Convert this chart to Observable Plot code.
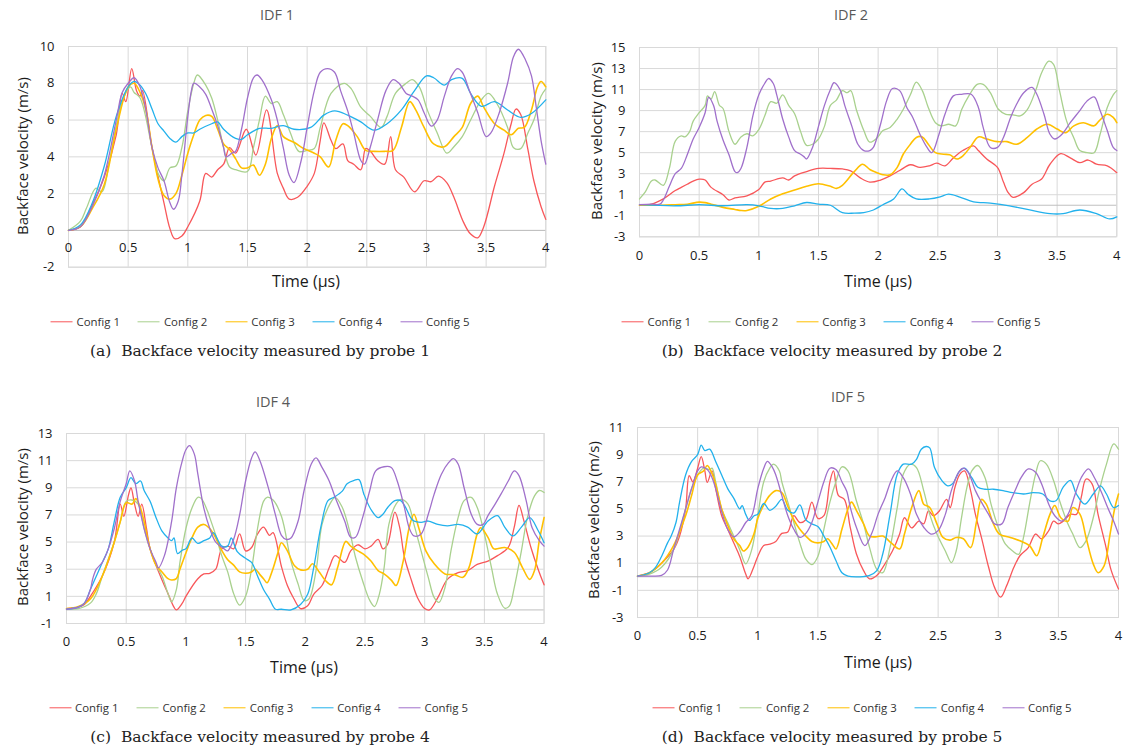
<!DOCTYPE html>
<html><head><meta charset="utf-8">
<script src="https://cdn.jsdelivr.net/npm/d3@7"></script>
<script src="https://cdn.jsdelivr.net/npm/@observablehq/plot@0.6"></script>
<style>
body{margin:0;background:#fff;}
#root{position:relative;width:1126px;height:750px;overflow:hidden;font-family:"Open Sans",sans-serif;background:#fff;}
.abs{position:absolute;white-space:nowrap;transform:translate(-50%,-50%);line-height:1;}
.title{font-size:14.5px;color:#595959;}
.xlab{font-size:16px;color:#1a1a1a;}
.ylab{font-size:15px;color:#1a1a1a;transform:translate(-50%,-50%) rotate(-90deg);}
.legend{display:flex;font-size:11.4px;color:#333;}
.item{display:inline-flex;align-items:center;margin:0 9px;}
.sw{display:inline-block;width:22px;height:0;border-top:1.5px solid;margin-right:4px;}
.cap{font-family:"DejaVu Serif",serif;font-size:15.5px;color:#222;}
svg{position:absolute;overflow:visible;}
</style></head><body><div id="root"></div>
<script>
const seriesNames = ["Config 1","Config 2","Config 3","Config 4","Config 5"];
const seriesColors = ["#F8575A","#A9D18E","#FFC000","#22B1EC","#A070CB"];
const xTickValues = [0,0.5,1,1.5,2,2.5,3,3.5,4];

// ---- IDF 1 (probe 1) ----
const idf1_config1 = [[0,0],[0.1,0.2],[0.2,1.4],[0.3,2.9],[0.4,5.2],[0.45,7.45],[0.48,7.0],[0.53,8.8],[0.57,7.6],[0.6,7.3],[0.62,7.6],[0.7,4.5],[0.8,1.5],[0.85,0.1],[0.89,-0.45],[0.95,-0.3],[1.0,0.2],[1.1,1.6],[1.15,3.1],[1.2,2.9],[1.25,3.3],[1.3,3.6],[1.35,4.5],[1.4,4.2],[1.49,5.5],[1.57,4.1],[1.66,6.55],[1.75,3.1],[1.8,2.3],[1.85,1.7],[1.92,1.8],[2.0,2.4],[2.06,3.1],[2.11,4.9],[2.14,5.85],[2.2,4.9],[2.24,4.45],[2.3,4.7],[2.34,3.8],[2.39,3.6],[2.45,3.3],[2.49,4.45],[2.53,4.3],[2.59,3.8],[2.65,3.6],[2.7,5.1],[2.74,3.3],[2.81,2.9],[2.9,2.1],[2.98,2.7],[3.04,2.65],[3.1,2.95],[3.17,2.6],[3.23,1.8],[3.31,0.45],[3.37,-0.2],[3.43,-0.4],[3.48,0.2],[3.57,2.4],[3.65,4.2],[3.71,5.8],[3.75,6.6],[3.79,6.3],[3.85,4.4],[3.9,2.7],[3.96,1.3],[4.0,0.6]];
const idf1_config2 = [[0,0],[0.1,0.5],[0.15,1.2],[0.23,2.3],[0.28,2.1],[0.35,4],[0.45,7.0],[0.52,7.8],[0.55,7.5],[0.6,7.2],[0.7,4.5],[0.75,3.1],[0.8,2.7],[0.85,3.4],[0.9,3.5],[0.95,4.5],[1.0,6.5],[1.05,8.0],[1.08,8.45],[1.15,7.9],[1.2,7.2],[1.25,6.0],[1.3,4.5],[1.35,3.45],[1.4,3.3],[1.5,3.2],[1.55,4.5],[1.6,6.0],[1.65,7.3],[1.7,6.9],[1.75,7.0],[1.8,6.3],[1.86,5.3],[1.93,4.3],[2.0,4.35],[2.06,4.45],[2.11,5.6],[2.2,7.45],[2.31,8.0],[2.37,7.7],[2.45,6.7],[2.53,6.2],[2.62,5.6],[2.67,6.2],[2.74,7.45],[2.83,8.0],[2.88,8.2],[2.94,7.8],[3.01,6.5],[3.09,5.3],[3.17,4.2],[3.23,4.55],[3.3,5.1],[3.37,6.0],[3.46,7.1],[3.52,7.45],[3.59,6.9],[3.68,5.6],[3.73,4.5],[3.79,4.45],[3.85,5.3],[3.9,6.0],[3.96,7.3],[4.0,7.7]];
const idf1_config3 = [[0,0],[0.1,0.2],[0.2,1.2],[0.3,2.5],[0.4,5.5],[0.5,7.8],[0.55,8.0],[0.6,7.5],[0.65,6.5],[0.7,4.5],[0.75,2.8],[0.8,1.9],[0.85,1.7],[0.9,2.0],[0.95,3.0],[1.0,4.2],[1.05,5.2],[1.1,6.0],[1.15,6.25],[1.2,6.2],[1.25,5.5],[1.3,4.7],[1.35,4.4],[1.4,3.9],[1.45,3.4],[1.5,3.4],[1.55,3.55],[1.6,3.0],[1.65,3.6],[1.7,5.0],[1.75,5.7],[1.8,5.1],[1.85,4.9],[1.9,4.75],[1.97,4.45],[2.06,4.2],[2.11,4.0],[2.18,3.45],[2.24,4.9],[2.3,5.8],[2.34,5.7],[2.42,5.1],[2.49,4.35],[2.56,4.3],[2.65,4.3],[2.72,4.35],[2.79,5.6],[2.86,7.0],[2.91,6.55],[2.98,5.6],[3.06,4.7],[3.15,4.55],[3.23,5.1],[3.3,5.6],[3.37,6.9],[3.43,7.3],[3.48,6.7],[3.57,5.8],[3.65,5.45],[3.71,5.2],[3.77,5.55],[3.82,5.6],[3.88,6.55],[3.93,7.8],[3.96,8.1],[4.0,7.8]];
const idf1_config4 = [[0,0],[0.1,0.3],[0.2,1.5],[0.3,3.5],[0.4,6.2],[0.5,7.8],[0.55,8.1],[0.6,7.9],[0.65,7.4],[0.7,6.6],[0.75,5.8],[0.8,5.4],[0.85,5.0],[0.9,4.8],[0.95,5.1],[1.0,5.3],[1.05,5.3],[1.1,5.5],[1.2,5.8],[1.25,5.9],[1.3,5.5],[1.4,5.0],[1.45,4.95],[1.5,5.2],[1.6,5.55],[1.7,5.55],[1.8,5.7],[1.89,5.5],[2.03,5.6],[2.14,6.27],[2.23,6.5],[2.34,6.27],[2.45,5.9],[2.56,5.45],[2.67,5.8],[2.79,6.55],[2.9,7.6],[3.0,8.4],[3.06,8.3],[3.15,7.9],[3.21,8.2],[3.3,8.27],[3.37,7.45],[3.46,6.75],[3.57,7.0],[3.68,6.55],[3.79,6.15],[3.88,6.36],[4.0,7.1]];
const idf1_config5 = [[0,0],[0.1,0.2],[0.2,1.3],[0.3,3],[0.4,6],[0.45,7.5],[0.5,8.0],[0.55,8.3],[0.6,7.8],[0.65,6.5],[0.7,4.5],[0.75,3.4],[0.8,2.7],[0.85,1.5],[0.88,1.15],[0.92,1.6],[0.95,3],[1.0,6.2],[1.03,7.6],[1.05,8.0],[1.1,7.8],[1.15,7.4],[1.2,6.6],[1.25,5.7],[1.3,4.5],[1.32,4.0],[1.37,4.2],[1.4,4.3],[1.45,5.5],[1.5,7.2],[1.55,8.3],[1.58,8.45],[1.62,8.2],[1.7,7.1],[1.75,6.0],[1.8,4.5],[1.85,3.0],[1.89,2.6],[1.95,3.8],[2.0,5.6],[2.06,7.6],[2.11,8.6],[2.17,8.8],[2.23,8.6],[2.28,7.6],[2.34,6.5],[2.39,5.3],[2.45,3.8],[2.48,3.6],[2.53,4.55],[2.59,6.0],[2.66,7.6],[2.72,8.2],[2.77,8.0],[2.83,7.45],[2.88,7.3],[2.93,7.1],[2.98,6.4],[3.04,5.67],[3.09,6.0],[3.15,7.3],[3.21,8.4],[3.26,8.8],[3.3,8.6],[3.36,7.6],[3.43,6.4],[3.5,5.1],[3.54,5.3],[3.61,6.4],[3.68,8.0],[3.73,9.45],[3.77,9.85],[3.83,9.27],[3.88,8.4],[3.92,6.7],[3.96,4.9],[4.0,3.6]];

// ---- IDF 2 (probe 2) ----
const idf2_config1 = [[0,0],[0.1,0.1],[0.2,0.6],[0.3,1.4],[0.35,1.7],[0.4,2.0],[0.45,2.3],[0.5,2.48],[0.55,2.4],[0.6,1.7],[0.7,1.0],[0.75,0.5],[0.8,0.7],[0.9,0.9],[1.0,1.5],[1.05,2.2],[1.1,2.3],[1.2,2.6],[1.25,2.4],[1.3,2.8],[1.4,3.2],[1.5,3.5],[1.6,3.5],[1.7,3.45],[1.77,3.27],[1.85,2.6],[1.93,2.2],[2.02,2.4],[2.1,2.8],[2.18,3.3],[2.27,3.85],[2.35,3.6],[2.43,3.75],[2.49,4.0],[2.56,3.75],[2.63,4.5],[2.71,5.2],[2.8,5.65],[2.84,5.2],[2.91,4.4],[3.0,3.6],[3.05,2.2],[3.09,1.2],[3.13,0.75],[3.22,1.2],[3.29,2.0],[3.37,2.5],[3.44,3.9],[3.53,4.9],[3.61,4.5],[3.69,4.05],[3.76,4.3],[3.83,3.9],[3.92,3.75],[4.0,3.1]];
const idf2_config2 = [[0,0.6],[0.05,1.3],[0.1,2.3],[0.13,2.4],[0.2,1.9],[0.25,3.5],[0.3,6.1],[0.35,6.6],[0.38,6.5],[0.42,7.0],[0.45,8.0],[0.5,8.8],[0.55,9.5],[0.57,10.4],[0.6,10.1],[0.63,10.8],[0.67,9.5],[0.7,9.2],[0.75,7.0],[0.8,5.8],[0.85,6.5],[0.9,6.8],[0.95,6.6],[1.0,7.2],[1.05,8.5],[1.1,9.85],[1.15,9.7],[1.2,10.5],[1.25,9.5],[1.3,8.7],[1.35,7.0],[1.4,5.7],[1.45,5.8],[1.5,6.3],[1.55,7.5],[1.6,9.5],[1.65,10.0],[1.7,10.9],[1.74,10.7],[1.77,10.9],[1.82,9.0],[1.88,7.1],[1.93,6.0],[1.99,6.4],[2.04,7.1],[2.1,7.4],[2.16,8.2],[2.21,9.1],[2.27,10.5],[2.32,11.7],[2.37,10.9],[2.42,9.3],[2.48,7.85],[2.53,7.55],[2.59,7.7],[2.65,7.55],[2.7,9.1],[2.76,10.4],[2.83,11.5],[2.88,11.5],[2.94,10.7],[3.01,9.1],[3.07,8.65],[3.13,8.6],[3.19,8.5],[3.25,9.1],[3.32,10.9],[3.37,12.6],[3.43,13.7],[3.47,13.4],[3.52,10.9],[3.58,8.0],[3.64,6.4],[3.69,5.2],[3.75,5.0],[3.81,5.0],[3.86,6.75],[3.92,9.3],[3.97,10.5],[4.0,10.9]];
const idf2_config3 = [[0,0],[0.2,0],[0.3,0.05],[0.4,0.1],[0.5,0.3],[0.55,0.25],[0.6,0.1],[0.7,-0.2],[0.8,-0.4],[0.85,-0.5],[0.9,-0.5],[1.0,-0.1],[1.1,0.6],[1.2,1.1],[1.3,1.45],[1.4,1.8],[1.5,2.05],[1.6,1.8],[1.65,1.6],[1.7,1.9],[1.8,3.2],[1.87,3.9],[1.93,3.4],[1.99,3.1],[2.04,2.9],[2.1,2.9],[2.16,3.6],[2.21,4.85],[2.27,5.8],[2.32,6.45],[2.37,6.5],[2.42,5.8],[2.48,5.0],[2.55,4.85],[2.6,4.8],[2.66,4.4],[2.71,4.7],[2.77,5.5],[2.84,6.5],[2.91,6.3],[3.0,6.05],[3.08,6.05],[3.16,5.8],[3.25,6.45],[3.33,7.25],[3.42,7.7],[3.5,7.25],[3.57,6.9],[3.64,7.55],[3.72,7.85],[3.81,7.55],[3.85,8.0],[3.92,8.65],[3.97,8.35],[4.0,7.85]];
const idf2_config4 = [[0,0.05],[0.3,-0.05],[0.5,0.05],[0.7,-0.05],[0.9,0.05],[1.0,-0.05],[1.1,-0.3],[1.2,-0.3],[1.3,-0.05],[1.4,0.26],[1.5,0.1],[1.6,0.0],[1.7,-0.7],[1.8,-0.75],[1.88,-0.7],[1.96,-0.45],[2.04,0.05],[2.13,0.6],[2.2,1.55],[2.25,1.05],[2.32,0.6],[2.43,0.6],[2.52,0.8],[2.59,1.05],[2.69,0.75],[2.8,0.33],[2.94,0.2],[3.1,-0.05],[3.27,-0.45],[3.44,-0.8],[3.55,-0.8],[3.69,-0.45],[3.83,-0.8],[3.94,-1.3],[4.0,-1.1]];
const idf2_config5 = [[0,0.05],[0.1,0.1],[0.17,0.1],[0.2,0.5],[0.25,1.8],[0.3,3.0],[0.35,3.5],[0.4,4.8],[0.45,6.3],[0.5,7.4],[0.55,8.8],[0.58,10.25],[0.62,9.5],[0.65,8.0],[0.7,6.2],[0.75,4.8],[0.8,3.2],[0.82,3.1],[0.85,3.5],[0.9,5.5],[0.95,8.5],[1.0,10.5],[1.05,11.6],[1.08,12.05],[1.12,11.6],[1.15,10.5],[1.2,8.2],[1.25,6.5],[1.3,5.2],[1.35,4.85],[1.38,4.6],[1.4,4.4],[1.45,5.5],[1.5,7.5],[1.55,9.5],[1.6,11.0],[1.63,11.65],[1.68,11.0],[1.72,9.5],[1.78,7.5],[1.83,5.8],[1.88,5.2],[1.93,5.2],[1.96,5.5],[2.02,7.7],[2.07,9.9],[2.12,11.1],[2.18,10.9],[2.24,9.3],[2.29,8.35],[2.35,6.75],[2.41,5.5],[2.45,5.0],[2.51,6.75],[2.56,8.65],[2.63,10.4],[2.7,10.55],[2.78,10.55],[2.84,9.3],[2.88,7.4],[2.94,5.5],[3.0,5.5],[3.05,6.45],[3.11,8.35],[3.16,9.6],[3.22,10.7],[3.29,11.2],[3.33,10.55],[3.39,8.65],[3.44,6.75],[3.48,6.3],[3.54,6.75],[3.61,7.85],[3.69,9.0],[3.75,9.9],[3.81,10.3],[3.86,9.0],[3.92,7.1],[3.97,5.5],[4.0,5.2]];

// ---- IDF 4 (probe 4) ----
const idf4_config1 = [[0,0.1],[0.1,0.2],[0.15,0.4],[0.2,1.0],[0.3,2.5],[0.4,5],[0.45,7.8],[0.48,6.9],[0.52,8.5],[0.54,9.0],[0.57,7.8],[0.6,6.9],[0.63,7.8],[0.67,6.0],[0.7,4.5],[0.8,2.2],[0.85,1.2],[0.9,0.2],[0.92,0],[0.97,0.5],[1.0,1.0],[1.1,2.3],[1.15,2.65],[1.2,2.7],[1.25,3.0],[1.3,4.5],[1.35,4.7],[1.4,4.5],[1.45,5.6],[1.5,4.35],[1.55,4.6],[1.6,5.6],[1.65,6.1],[1.7,5.5],[1.73,5.7],[1.8,3.2],[1.85,1.8],[1.9,0.9],[1.96,0.1],[2.02,0.3],[2.07,1.15],[2.14,1.8],[2.2,3.1],[2.25,4.0],[2.33,3.5],[2.38,4.35],[2.44,4.8],[2.5,4.5],[2.55,4.7],[2.61,5.2],[2.65,4.5],[2.69,4.85],[2.75,7.2],[2.79,6.1],[2.83,3.9],[2.89,2.15],[2.94,0.9],[3.0,0.1],[3.04,0],[3.11,0.9],[3.19,2.25],[3.28,2.75],[3.36,2.9],[3.44,3.35],[3.53,3.6],[3.61,4.0],[3.7,4.6],[3.75,6.1],[3.79,7.7],[3.83,6.6],[3.89,4.6],[3.95,3.0],[4.0,1.85]];
const idf4_config2 = [[0,0.05],[0.1,0.1],[0.2,0.5],[0.25,1.2],[0.3,2.5],[0.4,5.0],[0.45,6.5],[0.5,8.0],[0.55,8.1],[0.6,7.8],[0.65,6.0],[0.7,4.5],[0.75,3.3],[0.8,2.5],[0.85,1.2],[0.88,0.6],[0.92,1.5],[0.95,3.5],[1.0,6.0],[1.05,7.5],[1.1,8.3],[1.13,8.2],[1.18,7.3],[1.2,6.8],[1.25,5.5],[1.3,4.0],[1.35,2.8],[1.4,1.2],[1.45,0.35],[1.5,1.0],[1.55,3],[1.6,6.0],[1.65,8.0],[1.68,8.3],[1.73,8.1],[1.8,6.9],[1.88,3.6],[1.94,1.9],[1.99,0.7],[2.03,0.8],[2.09,2.9],[2.14,6.3],[2.2,7.7],[2.25,8.3],[2.31,7.55],[2.37,5.85],[2.42,3.9],[2.48,2.15],[2.54,0.7],[2.58,0.25],[2.62,1.15],[2.66,3.1],[2.7,6.3],[2.76,7.8],[2.8,8.15],[2.86,7.8],[2.91,6.3],[2.97,4.35],[3.03,2.4],[3.08,0.9],[3.12,0.55],[3.17,1.65],[3.22,4.35],[3.28,6.8],[3.33,8.05],[3.39,8.3],[3.44,7.55],[3.5,5.6],[3.56,3.1],[3.61,1.15],[3.67,0.13],[3.71,0.3],[3.75,1.65],[3.81,4.35],[3.86,6.8],[3.92,8.4],[3.96,8.8],[4.0,8.65]];
const idf4_config3 = [[0,0.1],[0.1,0.25],[0.2,0.8],[0.3,2.5],[0.4,5.0],[0.45,6.5],[0.5,7.9],[0.55,7.8],[0.58,8.2],[0.62,7.5],[0.65,6.5],[0.7,4.5],[0.75,3.3],[0.8,2.8],[0.85,2.3],[0.88,2.2],[0.92,2.3],[0.95,3.0],[1.0,4.2],[1.05,5.3],[1.1,6.1],[1.15,6.3],[1.2,6.0],[1.25,5.3],[1.3,4.4],[1.35,3.7],[1.4,3.3],[1.45,2.8],[1.5,2.7],[1.55,2.8],[1.58,3.0],[1.62,2.6],[1.65,2.3],[1.68,2.0],[1.72,2.8],[1.77,4.2],[1.8,4.95],[1.85,4.35],[1.91,3.25],[1.96,2.95],[2.02,3.0],[2.06,3.4],[2.12,2.75],[2.17,2.15],[2.22,1.85],[2.27,3.1],[2.34,5.05],[2.38,4.7],[2.44,4.35],[2.49,4.1],[2.55,3.6],[2.61,2.9],[2.66,2.65],[2.72,2.2],[2.76,1.8],[2.82,3.6],[2.87,6.05],[2.91,7.05],[2.95,6.05],[3.01,4.35],[3.08,3.4],[3.17,2.65],[3.25,2.6],[3.32,2.4],[3.37,3.1],[3.44,5.6],[3.47,6.05],[3.53,5.35],[3.58,4.5],[3.67,4.6],[3.75,4.25],[3.82,3.1],[3.88,2.25],[3.92,2.9],[3.96,5.1],[4.0,6.8]];
const idf4_config4 = [[0,0.05],[0.1,0.2],[0.15,0.5],[0.2,1.5],[0.25,2.5],[0.3,3.5],[0.35,4.5],[0.4,6.5],[0.45,8.3],[0.5,9.0],[0.54,9.75],[0.58,9.3],[0.62,9.5],[0.65,8.8],[0.7,8.0],[0.75,6.8],[0.8,5.8],[0.85,5.3],[0.88,5.1],[0.9,5.3],[0.93,4.15],[0.97,4.4],[1.0,4.5],[1.05,5.3],[1.1,4.9],[1.15,5.1],[1.2,5.3],[1.23,5.7],[1.3,4.7],[1.35,4.7],[1.38,5.3],[1.43,4.3],[1.5,3.8],[1.55,3.5],[1.6,2.5],[1.65,1.5],[1.7,0.8],[1.75,0.05],[1.8,0.05],[1.88,0],[1.96,0.4],[2.02,1.15],[2.07,3.1],[2.13,6.1],[2.19,8.05],[2.24,8.3],[2.31,8.75],[2.35,9.3],[2.41,9.55],[2.45,9.6],[2.49,8.55],[2.55,7.4],[2.61,6.8],[2.65,7.05],[2.69,7.55],[2.75,8.05],[2.8,8.05],[2.84,7.55],[2.9,6.6],[2.97,6.45],[3.03,6.55],[3.11,6.3],[3.19,6.2],[3.28,6.3],[3.36,6.1],[3.44,5.6],[3.53,6.55],[3.61,6.95],[3.67,6.1],[3.74,5.45],[3.81,6.1],[3.88,6.8],[3.95,5.85],[4.0,4.95]];
const idf4_config5 = [[0,0.05],[0.1,0.2],[0.15,0.5],[0.2,1.5],[0.22,2.3],[0.25,3.0],[0.3,3.5],[0.35,4.5],[0.4,6.0],[0.45,8.0],[0.5,9.3],[0.53,10.25],[0.57,9.5],[0.6,8.0],[0.65,6.0],[0.7,4.5],[0.75,3.5],[0.77,3.1],[0.82,4.0],[0.88,6.5],[0.92,9.0],[0.97,11.0],[1.0,11.8],[1.03,12.1],[1.07,11.5],[1.1,10.0],[1.15,7.5],[1.2,6.0],[1.25,5.0],[1.32,4.5],[1.35,4.35],[1.4,5.2],[1.45,7.0],[1.5,9.5],[1.55,11.2],[1.58,11.65],[1.62,11.0],[1.7,8.7],[1.75,7.0],[1.8,5.5],[1.84,5.2],[1.88,5.3],[1.94,6.55],[1.99,8.8],[2.05,10.75],[2.09,11.2],[2.14,10.5],[2.2,9.5],[2.25,8.3],[2.33,6.55],[2.38,5.35],[2.42,5.35],[2.48,6.8],[2.54,8.8],[2.59,10.25],[2.66,10.55],[2.72,10.5],[2.77,9.5],[2.83,7.55],[2.87,6.05],[2.91,5.45],[2.97,5.6],[3.03,7.05],[3.08,8.55],[3.14,10.0],[3.2,10.85],[3.24,11.15],[3.28,10.75],[3.33,9.0],[3.39,7.05],[3.44,6.3],[3.49,6.3],[3.53,6.95],[3.59,7.8],[3.64,8.55],[3.7,9.5],[3.75,10.25],[3.79,9.9],[3.85,8.05],[3.9,6.05],[3.96,5.1],[4.0,4.7]];

// ---- IDF 5 (probe 5) ----
const idf5_config1 = [[0,0.05],[0.1,0.3],[0.15,0.6],[0.2,1.0],[0.3,2.0],[0.35,3.0],[0.4,5.0],[0.43,7.45],[0.46,7.0],[0.5,8.0],[0.53,8.85],[0.56,7.8],[0.58,6.95],[0.62,7.8],[0.65,6.5],[0.7,4.5],[0.75,3.5],[0.8,2.5],[0.85,1.5],[0.9,0.2],[0.92,-0.15],[0.97,0.8],[1.0,1.5],[1.05,2.3],[1.1,2.4],[1.15,2.6],[1.2,3.2],[1.25,3.3],[1.3,4.5],[1.35,4.0],[1.4,4.2],[1.45,5.5],[1.5,4.3],[1.55,4.5],[1.6,7.0],[1.63,7.8],[1.67,6.0],[1.72,5.7],[1.77,3.6],[1.82,1.7],[1.88,0.45],[1.93,-0.15],[1.99,0.1],[2.04,0.7],[2.12,1.9],[2.18,3.15],[2.22,4.35],[2.28,3.6],[2.34,4.1],[2.38,3.9],[2.42,4.85],[2.46,4.5],[2.51,4.85],[2.57,5.7],[2.6,5.1],[2.64,6.6],[2.68,7.55],[2.72,7.8],[2.77,6.35],[2.81,4.6],[2.86,2.9],[2.92,0.7],[2.97,-0.8],[3.02,-1.5],[3.07,-0.65],[3.13,0.7],[3.18,1.55],[3.25,2.15],[3.31,3.15],[3.36,2.8],[3.42,3.4],[3.46,4.1],[3.5,3.9],[3.54,4.1],[3.6,4.6],[3.65,4.6],[3.69,5.85],[3.73,7.2],[3.78,6.85],[3.83,4.6],[3.89,2.4],[3.94,0.45],[4.0,-0.9]];
const idf5_config2 = [[0,0.05],[0.1,0.2],[0.2,0.7],[0.3,2.0],[0.4,5.0],[0.45,6.5],[0.5,7.5],[0.55,8.0],[0.6,7.9],[0.62,8.0],[0.65,7.0],[0.7,5.0],[0.75,4.0],[0.8,3.0],[0.85,2.0],[0.9,0.95],[0.95,2.0],[1.0,4.5],[1.05,7.0],[1.1,8.0],[1.13,8.3],[1.18,7.8],[1.2,7.0],[1.25,5.5],[1.3,4.0],[1.35,2.5],[1.4,1.3],[1.45,0.9],[1.5,1.5],[1.55,3.5],[1.6,5.5],[1.65,7.0],[1.7,8.1],[1.75,7.8],[1.82,5.6],[1.88,3.9],[1.93,2.15],[1.99,0.55],[2.04,0.3],[2.1,2.15],[2.16,5.1],[2.21,7.55],[2.27,8.3],[2.32,8.05],[2.38,6.35],[2.43,4.6],[2.49,3.15],[2.56,1.9],[2.61,1.05],[2.65,1.9],[2.69,4.1],[2.74,6.6],[2.78,7.8],[2.83,8.2],[2.89,7.3],[2.94,5.35],[3.0,3.65],[3.06,2.4],[3.12,1.9],[3.17,1.65],[3.21,2.9],[3.26,5.35],[3.31,7.55],[3.35,8.55],[3.4,8.3],[3.46,7.1],[3.51,5.6],[3.57,4.1],[3.62,3.15],[3.68,2.15],[3.73,2.65],[3.79,4.35],[3.84,6.35],[3.9,8.3],[3.96,9.8],[4.0,9.4]];
const idf5_config3 = [[0,0.05],[0.1,0.3],[0.2,1.0],[0.3,2.3],[0.4,4.5],[0.45,6.0],[0.5,7.5],[0.55,7.8],[0.58,8.2],[0.62,7.6],[0.65,6.8],[0.7,5.0],[0.75,3.8],[0.8,2.8],[0.85,2.3],[0.88,1.9],[0.92,2.2],[0.97,3.2],[1.0,4.3],[1.05,5.3],[1.1,6.0],[1.15,6.35],[1.2,6.2],[1.25,5.2],[1.3,4.2],[1.35,3.5],[1.4,3.0],[1.45,2.6],[1.5,2.5],[1.55,2.6],[1.58,2.8],[1.62,2.4],[1.65,2.05],[1.7,3.5],[1.75,5.0],[1.78,5.5],[1.82,4.9],[1.88,3.9],[1.93,3.0],[1.99,2.95],[2.04,3.0],[2.11,2.5],[2.18,2.05],[2.22,3.15],[2.28,5.1],[2.34,6.35],[2.38,5.35],[2.43,5.1],[2.49,3.9],[2.54,2.9],[2.6,2.7],[2.65,2.9],[2.71,2.8],[2.77,2.15],[2.82,4.1],[2.86,5.7],[2.9,5.35],[2.96,3.9],[3.01,3.15],[3.1,2.9],[3.18,2.65],[3.26,2.3],[3.32,1.55],[3.37,2.9],[3.43,4.6],[3.47,5.25],[3.52,4.35],[3.58,4.1],[3.62,5.1],[3.68,4.6],[3.73,2.9],[3.79,0.95],[3.83,0.3],[3.88,0.8],[3.93,3.15],[3.97,5.1],[4.0,6.1]];
const idf5_config4 = [[0,0.05],[0.1,0.3],[0.15,0.7],[0.2,1.5],[0.25,2.5],[0.28,3.0],[0.32,4.0],[0.35,5.5],[0.4,7.5],[0.45,8.5],[0.5,9.0],[0.53,9.7],[0.56,9.3],[0.6,9.4],[0.65,8.5],[0.7,7.5],[0.75,6.5],[0.8,5.8],[0.85,5.0],[0.87,5.25],[0.9,4.6],[0.93,4.15],[0.97,4.5],[1.0,4.6],[1.05,5.4],[1.1,4.9],[1.15,5.2],[1.2,5.7],[1.25,4.9],[1.3,4.7],[1.35,5.3],[1.4,4.2],[1.45,3.9],[1.5,3.7],[1.55,3.0],[1.6,2.2],[1.65,1.2],[1.7,0.3],[1.75,0.05],[1.85,0],[1.93,0.1],[1.99,0.45],[2.04,1.7],[2.1,4.6],[2.16,7.55],[2.21,8.3],[2.28,8.3],[2.32,8.65],[2.36,9.4],[2.4,9.6],[2.43,9.5],[2.47,8.05],[2.53,7.1],[2.58,6.7],[2.62,6.85],[2.68,7.8],[2.72,8.0],[2.78,7.3],[2.83,6.6],[2.89,6.45],[2.96,6.45],[3.04,6.35],[3.12,6.2],[3.21,6.1],[3.29,6.2],[3.37,6.1],[3.43,5.6],[3.48,5.6],[3.54,6.6],[3.6,7.1],[3.65,6.1],[3.72,5.35],[3.79,6.1],[3.85,6.7],[3.9,6.1],[3.96,5.1],[4.0,5.25]];
const idf5_config5 = [[0,0.05],[0.1,0.05],[0.2,0.1],[0.25,0.5],[0.3,2.0],[0.35,3.5],[0.4,5.0],[0.45,6.5],[0.5,7.8],[0.53,8.1],[0.58,7.9],[0.62,7.3],[0.65,6.5],[0.7,4.8],[0.75,3.5],[0.8,2.95],[0.85,3.3],[0.9,4.0],[0.95,4.5],[1.0,6.5],[1.05,8.0],[1.08,8.5],[1.12,8.1],[1.15,7.5],[1.2,6.0],[1.25,4.5],[1.3,3.5],[1.35,2.9],[1.4,3.2],[1.45,4.0],[1.5,5.5],[1.55,7.0],[1.6,8.0],[1.65,7.9],[1.7,7.0],[1.74,6.3],[1.77,5.1],[1.82,3.65],[1.89,2.3],[1.95,3.25],[2.0,4.6],[2.06,5.85],[2.11,7.1],[2.16,7.8],[2.21,7.3],[2.27,6.1],[2.32,4.6],[2.38,3.65],[2.44,3.15],[2.5,3.4],[2.56,4.6],[2.61,6.35],[2.67,7.7],[2.71,8.0],[2.75,7.7],[2.81,6.35],[2.86,5.5],[2.92,4.6],[2.97,3.9],[3.03,3.9],[3.08,5.1],[3.14,6.35],[3.19,7.3],[3.25,7.95],[3.31,7.7],[3.36,6.85],[3.42,5.35],[3.47,4.5],[3.53,4.1],[3.58,4.6],[3.64,6.1],[3.69,7.3],[3.75,7.95],[3.8,7.3],[3.86,6.2],[3.91,5.1],[3.96,4.1],[4.0,3.15]];

const idf1_yTicks = [-2,0,2,4,6,8,10];
const idf2_yTicks = [-3,-1,1,3,5,7,9,11,13,15];
const idf4_yTicks = [-1,1,3,5,7,9,11,13];
const idf5_yTicks = [-3,-1,1,3,5,7,9,11];

const panels = [
  {title:"IDF 1", caption:"(a)\u00a0 Backface velocity measured by probe 1",
   series:[idf1_config1,idf1_config2,idf1_config3,idf1_config4,idf1_config5],
   yTicks:idf1_yTicks, f:{x0:67.7,x1:545,y0:46.3,y1:267}, xDy:-27,
   titleC:[277,15], ylabC:[22,156], xlabC:[306,281], legC:[260,322], capC:[260,352]},
  {title:"IDF 2", caption:"(b)\u00a0 Backface velocity measured by probe 2",
   series:[idf2_config1,idf2_config2,idf2_config3,idf2_config4,idf2_config5],
   yTicks:idf2_yTicks, f:{x0:639.3,x1:1116.6,y0:46.7,y1:236}, xDy:11,
   titleC:[851,15], ylabC:[596,141], xlabC:[878,281], legC:[831,322], capC:[832,352]},
  {title:"IDF 4", caption:"(c)\u00a0 Backface velocity measured by probe 4",
   series:[idf4_config1,idf4_config2,idf4_config3,idf4_config4,idf4_config5],
   yTicks:idf4_yTicks, f:{x0:65.7,x1:543.3,y0:432.7,y1:622.7}, xDy:10,
   titleC:[273,402], ylabC:[22,527], xlabC:[304,667], legC:[258.5,708], capC:[260,738]},
  {title:"IDF 5", caption:"(d)\u00a0 Backface velocity measured by probe 5",
   series:[idf5_config1,idf5_config2,idf5_config3,idf5_config4,idf5_config5],
   yTicks:idf5_yTicks, f:{x0:637.3,x1:1118.3,y0:426.7,y1:616.7}, xDy:10,
   titleC:[848,397], ylabC:[593,520], xlabC:[878,662], legC:[862,708], capC:[832,738]}
];

const root = document.getElementById("root");
function addText(cls, text, c){
  const d = document.createElement("div");
  d.className = "abs " + cls;
  d.textContent = text;
  d.style.left = c[0] + "px"; d.style.top = c[1] + "px";
  root.appendChild(d);
  return d;
}

for (const p of panels){
  const ml = 60, mr = 12, mt = 12, mb = 40;
  const W = (p.f.x1 - p.f.x0) + ml + mr;
  const H = (p.f.y1 - p.f.y0) + mt + mb;
  const yDomain = [p.yTicks[0], p.yTicks[p.yTicks.length-1]];
  const marks = [
    Plot.gridY(p.yTicks, {stroke:"#d9d9d9", strokeOpacity:1}),
    Plot.gridX(xTickValues, {stroke:"#d9d9d9", strokeOpacity:1}),
    Plot.frame({stroke:"#d9d9d9"}),
    Plot.ruleY([0], {stroke:"#bfbfbf"}),
  ];
  p.series.forEach((s, i) => {
    const data = s.map(([t, v]) => ({t, v}));
    marks.push(Plot.line(data, {x:"t", y:"v", stroke:seriesColors[i], strokeWidth: i === 2 ? 1.6 : 1.3, curve:"catmull-rom"}));
  });
  marks.push(Plot.axisY({ticks:p.yTicks, tickSize:0, tickPadding:14, tickFormat:d => String(d), label:null, fill:"#1a1a1a"}));
  marks.push(Plot.axisX({ticks:xTickValues, tickSize:0, tickPadding:3, dy:p.xDy, tickFormat:d => String(d), label:null, fill:"#1a1a1a"}));
  const svg = Plot.plot({
    width: W, height: H,
    marginLeft: ml, marginRight: mr, marginTop: mt, marginBottom: mb,
    x: {domain:[0,4]},
    y: {domain:yDomain},
    style: {fontFamily:"'Open Sans', sans-serif", fontSize:"13px", background:"transparent", overflow:"visible"},
    marks
  });
  svg.style.left = (p.f.x0 - ml) + "px";
  svg.style.top = (p.f.y0 - mt) + "px";
  root.appendChild(svg);

  addText("title", p.title, p.titleC);
  addText("ylab", "Backface velocity (m/s)", p.ylabC);
  addText("xlab", "Time (\u00b5s)", p.xlabC);
  const leg = document.createElement("div");
  leg.className = "abs legend";
  leg.style.left = p.legC[0] + "px"; leg.style.top = p.legC[1] + "px";
  seriesNames.forEach((n, i) => {
    const it = document.createElement("span"); it.className = "item";
    const sw = document.createElement("span"); sw.className = "sw"; sw.style.borderTopColor = seriesColors[i];
    it.appendChild(sw); it.appendChild(document.createTextNode(n));
    leg.appendChild(it);
  });
  root.appendChild(leg);
  addText("cap", p.caption, p.capC);
}
</script></body></html>
